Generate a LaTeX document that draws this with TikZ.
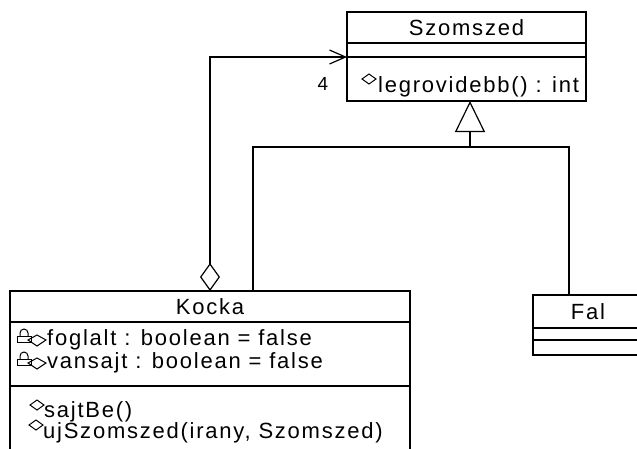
\documentclass[tikz,border=0pt]{standalone}
\usepackage{fontspec}
\setmainfont{Liberation Sans}[LetterSpace=8]
\usetikzlibrary{arrows.meta, positioning}

% small member marks
\newcommand{\opmark}[1]{\draw[icon] (#1) +(-7,0) -- +(0,-5) -- +(7,0) -- +(0,5) -- cycle;}
\newcommand{\attrmark}[1]{%
  \draw[icon] (#1) +(-9,0) -- +(0,-5) -- +(9,0) -- +(0,6) -- cycle;
  \draw[icon] (#1) ++(-17,-4) -- ++(0,-3) arc[start angle=180, end angle=360, radius=4] -- ++(0,3);
  \draw[icon] (#1) +(-20,-4) rectangle +(-6,2);}

\begin{document}
\begin{tikzpicture}[x=1pt, y=-1pt,
    every node/.style={font=\fontsize{22}{26}\selectfont},
    cls/.style={rectangle, draw, line width=1.2pt, inner sep=0pt, outer sep=0pt, anchor=north west},
    txt/.style={anchor=base west, inner sep=0pt},
    icon/.style={line width=1pt},
    link/.style={line width=1.2pt},
    gen/.style={link, -{Triangle[open, length=31pt, width=30pt]}},
    aggr/.style={link, {Diamond[open, length=28pt, width=20pt]}-{Straight Barb[length=16pt, width=14pt]}},
]
\useasboundingbox (0,0) rectangle (637,448);
\clip (0,0) rectangle (637,448);

% Szomszed
\node[cls, minimum width=239pt, minimum height=31pt] (szname) at (347,12) {Szomszed};
\node[cls, minimum width=239pt, minimum height=14pt, below=0pt of szname] (szattr) {};
\node[cls, minimum width=239pt, minimum height=44pt, below=0pt of szattr] (szops) {};
\node[txt] (legrov) at (378,92) {legrovidebb() : int};
\opmark{369,79}

% Kocka
\node[cls, minimum width=400pt, minimum height=31pt] (kname) at (10,291) {Kocka};
\node[cls, minimum width=400pt, minimum height=64pt, below=0pt of kname] (kattr) {};
\node[cls, minimum width=400pt, minimum height=80pt, below=0pt of kattr] (kops) {};
\node[txt] (foglalt) at (47,345) {foglalt : boolean = false};
\node[txt] (vansajt) at (47,368) {vansajt : boolean = false};
\attrmark{37,340}
\attrmark{37,363}
\node[txt] (sajtbe) at (44,417) {sajtBe()};
\node[txt] (ujszom) at (43,438) {ujSzomszed(irany, Szomszed)};
\opmark{37,405}
\opmark{36,425}

% Fal
\node[cls, minimum width=110pt, minimum height=33pt] (fname) at (533,295) {Fal};
\node[cls, minimum width=110pt, minimum height=12pt, below=0pt of fname] (fattr) {};
\node[cls, minimum width=110pt, minimum height=15pt, below=0pt of fattr] (fops) {};

% connectors
\coordinate (genjoin) at (470,147);
\draw[link] ([xshift=43pt]kname.north) |- (genjoin) -| ([xshift=-19pt]fname.north);
\draw[gen] (genjoin) -- (szops.south -| genjoin);
\draw[aggr] (kname.north) |- (szops.north west);
\node[font=\fontsize{19}{21}\selectfont] (mult) at (323,84) {4};
\end{tikzpicture}
\end{document}
